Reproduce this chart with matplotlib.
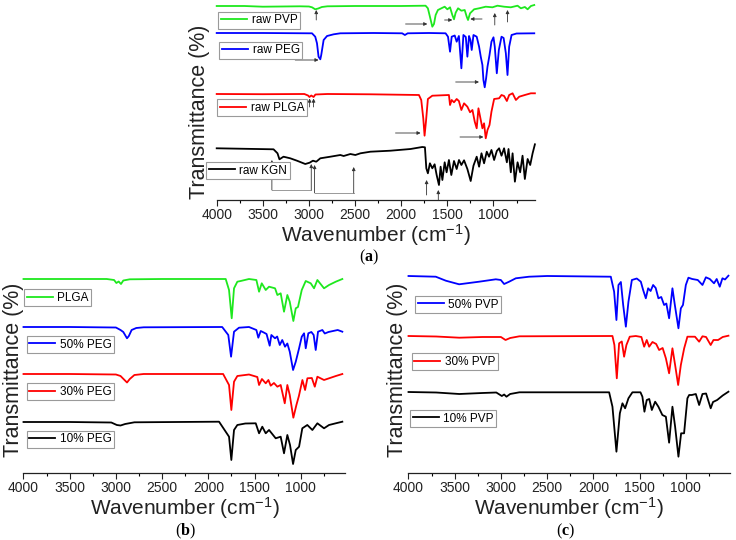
import numpy as np
import matplotlib.pyplot as plt
from matplotlib.ticker import MultipleLocator

plt.rcParams['font.family'] = ['Liberation Sans', 'DejaVu Sans']
plt.rcParams['mathtext.default'] = 'regular'
plt.rcParams['mathtext.fontset'] = 'custom'
plt.rcParams['mathtext.bf'] = 'Liberation Serif:bold'

# ---- panel (a): raw materials, (wavenumber, transmittance)
raw_pvp = [(4000, 100), (3700, 100), (3500, 99.3), (3300, 99.5), (3100, 99.7), (3000, 99.5),
           (2967, 98.7), (2932, 96.7), (2900, 97.5), (2860, 99), (2800, 99.7), (2500, 100),
           (2000, 100), (1736, 100.3), (1711, 97.7), (1689, 89.3), (1663, 79.3), (1645, 82),
           (1627, 91), (1602, 96), (1565, 97.7), (1529, 99.3), (1500, 96.7), (1471, 98.7),
           (1446, 91), (1428, 86.7), (1410, 93.3), (1384, 97.7), (1348, 95.3), (1312, 96),
           (1290, 89.3), (1276, 86), (1254, 92.7), (1210, 96.7), (1156, 97.7), (1084, 99.3),
           (1011, 98.7), (957, 100.3), (885, 99.3), (812, 98.7), (739, 100.3), (703, 97.7),
           (660, 99), (630, 96.7), (594, 100), (558, 101)]
raw_peg = [(4000, 100), (3500, 100), (3000, 99.7), (2967, 99.7), (2932, 96.3), (2913, 89.7),
           (2896, 76.3), (2877, 73.7), (2867, 78), (2841, 93), (2804, 97), (2732, 98.7),
           (2660, 99.7), (2300, 100), (1990, 99.7), (1960, 98), (1930, 99.7), (1700, 100),
           (1519, 99.7), (1493, 96.3), (1471, 81.3), (1453, 96.3), (1420, 97.5), (1399, 91.3),
           (1375, 97), (1348, 64.7), (1326, 98), (1300, 96), (1283, 76.3), (1265, 97),
           (1250, 93), (1236, 83), (1217, 98), (1182, 96.3), (1156, 86.3), (1138, 76.3),
           (1120, 68), (1109, 53), (1095, 45.7), (1080, 54.7), (1065, 66.3), (1043, 78),
           (1022, 91.3), (1000, 95.7), (986, 86.3), (964, 59.7), (942, 83), (913, 96.3),
           (890, 95), (866, 79.7), (848, 58), (830, 86.3), (804, 98), (750, 99.5), (558, 99.7)]
raw_plga = [(4000, 100), (3500, 99.8), (3050, 100), (3010, 98.5), (2995, 97), (2975, 98.5),
            (2950, 97), (2930, 99.5), (2800, 100), (2334, 99.7), (1808, 99), (1783, 94),
            (1761, 75.7), (1747, 58.3), (1732, 72.3), (1711, 95), (1663, 98.3), (1483, 99),
            (1471, 89), (1453, 94), (1428, 91.7), (1399, 95), (1375, 93), (1348, 84),
            (1319, 90.7), (1283, 87.3), (1254, 81.7), (1228, 84), (1203, 72.3), (1182, 65.7),
            (1163, 85.7), (1145, 77.3), (1120, 65.7), (1102, 70.7), (1084, 55.7), (1065, 64),
            (1043, 69), (1022, 82.3), (993, 95), (939, 95.7), (913, 99), (885, 98), (855, 93),
            (830, 99), (793, 100.7), (757, 94), (721, 97.3), (660, 99), (595, 100.7), (551, 100.7)]
raw_kgn = [(4000, 99.7), (3384, 98.7), (3341, 94.7), (3320, 88.7), (3276, 91.3), (3203, 89.7),
           (3130, 87.3), (3040, 84), (2993, 85.3), (2957, 87.3), (2921, 86.3), (2877, 89.7),
           (2768, 91.3), (2660, 93), (2624, 92), (2551, 94), (2497, 93), (2442, 94.7),
           (2334, 96.3), (2116, 97.3), (1899, 99), (1772, 101), (1743, 100.7), (1728, 79.7),
           (1711, 74.7), (1689, 84.7), (1663, 79.7), (1638, 83.7), (1616, 73), (1591, 63),
           (1573, 81.3), (1554, 68), (1529, 85.7), (1508, 75.7), (1483, 88), (1457, 73),
           (1428, 87), (1399, 79), (1374, 88), (1348, 83), (1319, 87.7), (1283, 79), (1247, 67),
           (1217, 82.3), (1182, 91.3), (1156, 81.3), (1130, 94.7), (1102, 84.7), (1073, 96.3),
           (1048, 91.3), (1022, 98), (993, 88), (964, 97), (939, 99.7), (913, 92.3), (885, 99.7),
           (855, 85.7), (837, 99), (812, 75.7), (793, 94.7), (768, 66.3), (739, 85.7), (711, 75.7),
           (685, 92.3), (660, 69), (630, 89), (602, 83), (576, 94.7), (551, 103.7)]

# ---- panel (b): PLGA / PEG blends
plga = [(4000, 100), (3500, 100), (3100, 100), (3020, 99), (2995, 96), (2970, 97.5), (2945, 95),
        (2920, 98.5), (2850, 99.7), (2500, 100), (1812, 100), (1776, 89), (1747, 60.7),
        (1722, 90.7), (1686, 97.3), (1650, 98), (1560, 100), (1480, 99), (1451, 87.3),
        (1422, 95.7), (1379, 89), (1343, 92.3), (1278, 90.7), (1253, 84), (1217, 85.7),
        (1181, 67.3), (1145, 84), (1119, 77.3), (1080, 58), (1054, 70.7), (1030, 72), (989, 89),
        (946, 98), (892, 95.7), (856, 90.7), (820, 99), (748, 90.7), (694, 94), (621, 97.3), (550, 100)]
peg50 = [(4000, 100), (3500, 100), (3000, 99.5), (2950, 97), (2920, 95), (2880, 88.7), (2860, 91),
         (2830, 97), (2780, 99), (2700, 99.7), (1850, 100), (1784, 92), (1754, 70.3), (1722, 95.3),
         (1668, 99.3), (1560, 100), (1480, 97), (1459, 89.3), (1433, 96), (1400, 94.5), (1370, 93),
         (1336, 81.3), (1318, 92), (1278, 88.7), (1255, 90.5), (1227, 82), (1200, 87), (1170, 80.3),
         (1145, 83.5), (1119, 75.3), (1083, 57), (1054, 65.3), (1018, 78.7), (989, 90.3),
         (964, 93.7), (946, 78.7), (918, 93.7), (885, 95), (860, 92), (838, 77), (813, 95.3),
         (766, 97), (740, 93.5), (700, 95), (650, 96), (600, 97), (550, 95.3)]
peg30 = [(4000, 100), (3500, 100), (3000, 99.5), (2950, 98), (2880, 91.5), (2850, 95), (2800, 99),
         (2700, 100), (1840, 100), (1776, 89), (1751, 64), (1722, 92.3), (1686, 98), (1560, 99.5),
         (1470, 97), (1451, 89), (1420, 95), (1379, 90.7), (1350, 94), (1325, 88.3), (1290, 91),
         (1253, 87.3), (1217, 89), (1173, 70.7), (1145, 89), (1119, 79), (1080, 56.3), (1047, 69),
         (1020, 78), (982, 94), (953, 84), (928, 95.7), (880, 96), (848, 87.3), (820, 97.3),
         (748, 94), (700, 95.5), (620, 98), (550, 100)]
peg10 = [(4000, 100), (3500, 100), (3050, 99.5), (2990, 97), (2950, 96.5), (2900, 98), (2800, 99.7),
         (1884, 100.3), (1776, 85.3), (1751, 62), (1722, 92), (1686, 97), (1600, 98.5),
         (1487, 98.7), (1451, 88.7), (1416, 95.3), (1379, 88.7), (1343, 92), (1271, 83.7),
         (1217, 85.3), (1181, 68.7), (1145, 87), (1116, 77), (1083, 58), (1054, 72), (1018, 75.3),
         (983, 93.7), (929, 97), (874, 92), (820, 98.7), (748, 93.7), (694, 97), (621, 98.7), (550, 100.3)]

# ---- panel (c): PLGA / PVP blends
pvp50 = [(4000, 100), (3705, 99.3), (3596, 95.3), (3452, 91.7), (3236, 94.3), (3055, 96.7),
         (3001, 96), (2965, 92), (2911, 94.3), (2839, 97.7), (2695, 99.3), (2500, 100),
         (1811, 99.3), (1775, 84.3), (1750, 56), (1728, 91), (1702, 94), (1677, 71), (1648, 49.3),
         (1620, 74.3), (1583, 96), (1530, 97.5), (1486, 94.3), (1461, 86), (1432, 77.7),
         (1407, 87.7), (1380, 85), (1353, 91), (1325, 88), (1296, 77.7), (1265, 79), (1234, 71),
         (1210, 72.5), (1180, 57.7), (1144, 87.7), (1118, 71), (1079, 47.7), (1053, 67.7),
         (1030, 71), (999, 91), (971, 98.3), (930, 97), (870, 96), (819, 91), (782, 98.7),
         (740, 97), (694, 92.7), (665, 97), (632, 89.3), (603, 97.7), (575, 96.5), (538, 100.3)]
pvp30 = [(4000, 100), (3700, 99.5), (3450, 98.3), (3200, 99), (3000, 99), (2950, 96), (2900, 98),
         (2800, 99.7), (1793, 100), (1772, 91), (1746, 57.7), (1721, 92.7), (1692, 94.5),
         (1667, 79.3), (1642, 91), (1606, 99.3), (1540, 100), (1480, 99), (1450, 89.3), (1422, 96),
         (1396, 89.3), (1360, 94), (1320, 92), (1288, 86), (1250, 88), (1215, 77.7), (1180, 62.7),
         (1144, 87.7), (1115, 71), (1082, 51), (1053, 71), (1017, 87.7), (982, 99.3), (900, 99.3),
         (855, 94.3), (819, 99.7), (780, 99), (730, 91), (700, 96), (650, 96), (600, 99), (538, 100.3)]
pvp10 = [(4000, 100), (3700, 99.5), (3450, 98), (3200, 99), (3050, 99.5), (2990, 96), (2965, 97.5),
         (2940, 95.3), (2900, 98), (2800, 99.7), (1829, 99.7), (1793, 85.3), (1750, 40.3),
         (1713, 78.7), (1685, 88.7), (1656, 83.7), (1620, 93.7), (1577, 99.7), (1490, 99.7),
         (1469, 95.3), (1447, 80.3), (1422, 92), (1395, 93), (1367, 82), (1331, 90.3), (1296, 85.3),
         (1253, 77), (1215, 75.3), (1180, 49.3), (1144, 85.3), (1115, 65.3), (1079, 35.3),
         (1050, 58.7), (1018, 58.7), (982, 93.7), (963, 97), (935, 97), (891, 98), (855, 87),
         (819, 98), (780, 98.5), (730, 83.7), (705, 90), (660, 92), (600, 96.5), (538, 100.3)]

GREEN, BLUE, RED, BLACK = '#1ee81e', '#0000ff', '#ff0000', '#000000'

W, H = 736, 540
fig = plt.figure(figsize=(W / 100, H / 100), dpi=100)


def px_axes(left, top, width, height):
    return fig.add_axes([left / W, 1 - (top + height) / H, width / W, height / H])


def style(ax, xmax, ymax):
    ax.set_xlim(4000, xmax)
    ax.set_ylim(0, ymax)
    for s in ['left', 'right', 'top']:
        ax.spines[s].set_visible(False)
    ax.spines['bottom'].set_linewidth(0.9)
    ax.spines['bottom'].set_color('#222222')
    ax.set_yticks([])
    ax.xaxis.set_major_locator(MultipleLocator(500))
    ax.xaxis.set_minor_locator(MultipleLocator(250))
    ax.tick_params(axis='x', which='major', length=4, width=0.8, pad=2, labelsize=10, colors='#222222')
    ax.tick_params(axis='x', which='minor', length=2.5, width=0.8)
    ax.patch.set_visible(False)


def spectrum(ax, data, offset, color):
    w, t = zip(*data)
    return ax.plot(np.array(w), np.array(t) + offset, color=color, lw=1.3, clip_on=False)[0]


def legend(line, text, x, y):
    leg = fig.legend(handles=[line], labels=[text], loc='upper left',
                     bbox_to_anchor=(x / W, 1 - y / H), borderaxespad=0, fontsize=8.5,
                     fancybox=False, framealpha=1, edgecolor='#9a9a9a',
                     handlelength=2.2, handletextpad=0.4, borderpad=0.22)
    leg.get_frame().set_linewidth(0.8)


def arrow(ax, x0, y0, x1, y1):
    ax.annotate('', xy=(x1, y1), xytext=(x0, y0), annotation_clip=False,
                arrowprops=dict(arrowstyle='-|>', color='#333333', lw=0.6,
                                mutation_scale=5, shrinkA=0, shrinkB=0))


# ---------------- (a)
axa = px_axes(216.7, 0, 318.3, 200)
style(axa, 550, 200)
la1 = spectrum(axa, raw_pvp, 94, GREEN)
la2 = spectrum(axa, raw_peg, 67, BLUE)
la3 = spectrum(axa, raw_plga, 6, RED)
la4 = spectrum(axa, raw_kgn, -48, BLACK)
legend(la1, 'raw PVP', 218.3, 11.7)
legend(la2, 'raw PEG', 219.3, 41.7)
legend(la3, 'raw PLGA', 217.3, 99.3)
legend(la4, 'raw KGN', 206, 162)

# peak markers: (from wavenumber, from height, to wavenumber, to height)
arrows_a = [(2921, 180, 2921, 190), (1953, 176, 1717, 176), (1530, 180, 1446, 180),
            (1124, 181, 1251, 181), (986, 175, 986, 187), (848, 178, 848, 190),
            (3149, 140, 2896, 140), (1410, 118, 1157, 118),
            (2993, 93, 2993, 101.5), (2950, 93, 2950, 101.5),
            (2062, 67, 1790, 67), (1363, 63, 1109, 63),
            (3402, 10, 3402, 40), (2975, 10, 2975, 36), (2939, 7, 2939, 35), (2515, 7, 2515, 33),
            (1725, 5, 1725, 20), (1598, 0, 1598, 10)]
for a in arrows_a:
    arrow(axa, *a)
axa.plot([3402, 2975], [10, 10], color='#999999', lw=0.7, clip_on=False)
axa.plot([2939, 2515], [7, 7], color='#999999', lw=0.7, clip_on=False)

# ---------------- (b)
axb = px_axes(23.5, 265, 321.6, 208)
style(axb, 520, 208)
lb1 = spectrum(axb, plga, 94, GREEN)
lb2 = spectrum(axb, peg50, 46, BLUE)
lb3 = spectrum(axb, peg30, -1, RED)
lb4 = spectrum(axb, peg10, -49, BLACK)
legend(lb1, 'PLGA', 24, 289.3)
legend(lb2, '50% PEG', 26.7, 336)
legend(lb3, '30% PEG', 26.7, 383.3)
legend(lb4, '10% PEG', 26.7, 430.7)

# ---------------- (c)
axc = px_axes(408.5, 265, 321.6, 208)
style(axc, 520, 208)
lc1 = spectrum(axc, pvp50, 97, BLUE)
lc2 = spectrum(axc, pvp30, 37, RED)
lc3 = spectrum(axc, pvp10, -19, BLACK)
legend(lc1, '50% PVP', 415, 296)
legend(lc2, '30% PVP', 411.7, 353.3)
legend(lc3, '10% PVP', 410, 410)

# axis titles and panel letters
xl = 'Wavenumber (cm$^{-1}$)'
for x, y in [(376, 235), (185, 508), (569, 508)]:
    fig.text(x / W, 1 - y / H, xl, ha='center', va='center', fontsize=15, color='#222222')
for x, y in [(199, 112), (14, 370), (398, 370)]:
    fig.text(x / W, 1 - y / H, 'Transmittance (%)', rotation=90, ha='center', va='center',
             fontsize=15.5, color='#222222')
for x, y, t in [(369, 257.5, 'a'), (185, 531, 'b'), (566, 531, 'c')]:
    fig.text(x / W, 1 - y / H, '($\\mathbf{%s}$)' % t, ha='center', va='center', fontsize=11.5,
             family='Liberation Serif')

fig.savefig('out.png', dpi=100)
